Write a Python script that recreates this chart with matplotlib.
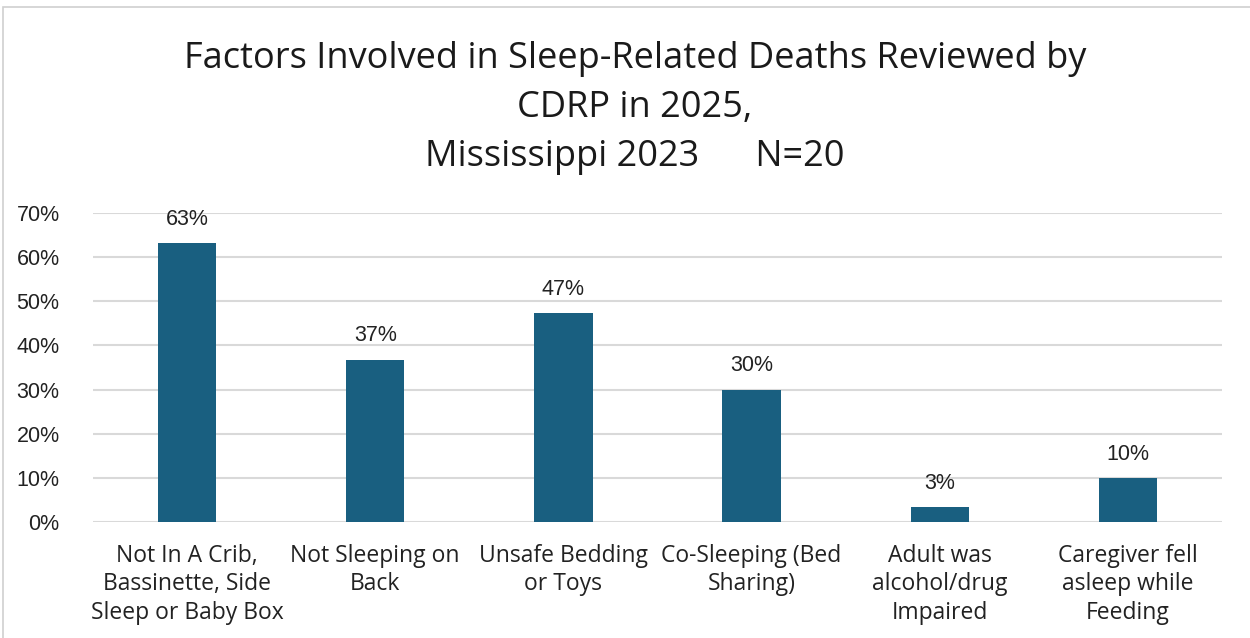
import numpy as np
import matplotlib.pyplot as plt
from matplotlib.patches import Rectangle
from matplotlib.ticker import FuncFormatter

# data
categories = ["Not In A Crib,\nBassinette, Side\nSleep or Baby Box",
              "Not Sleeping on\nBack",
              "Unsafe Bedding\nor Toys",
              "Co-Sleeping (Bed\nSharing)",
              "Adult was\nalcohol/drug\nImpaired",
              "Caregiver fell\nasleep while\nFeeding"]
values = [63.2, 36.8, 47.4, 30.0, 3.3, 10.0]
value_labels = ["63%", "37%", "47%", "30%", "3%", "10%"]
yticks = [0, 10, 20, 30, 40, 50, 60, 70]

bar_color = "#195f80"
grid_color = "#d9d9d9"
W, H = 1250, 638

fig = plt.figure(figsize=(12.5, 6.38), dpi=100)
ax = fig.add_axes([93 / W, 1 - 522 / H, (1222 - 93) / W, (522 - 213) / H])

x = np.arange(len(categories))
ax.bar(x, values, width=0.31, color=bar_color, zorder=3)
for xi, v, lab in zip(x, values, value_labels):
    ax.text(xi, v + 3.0, lab, ha="center", va="bottom", fontsize=15.5,
            family="Liberation Sans", color="#222222")

ax.set_xlim(-0.5, len(categories) - 0.5)
ax.set_ylim(0, 70)
ax.set_yticks(yticks)
ax.yaxis.set_major_formatter(FuncFormatter(lambda v, p: f"{v:.0f}%"))
ax.grid(axis="y", color=grid_color, linewidth=1.5, zorder=0)
for s in ax.spines.values():
    s.set_visible(False)
ax.tick_params(axis="both", length=0)
ax.tick_params(axis="y", pad=24)
for t in ax.get_yticklabels():
    t.set_fontsize(15.5)
    t.set_family("Liberation Sans")
    t.set_color("#222222")

ax.set_xticks(x)
ax.set_xticklabels(categories, fontsize=16.5, family="Open Sans",
                   color="#222222", linespacing=1.23)
ax.tick_params(axis="x", pad=16)

fig.text(0.508, 1 - 41 / H,
         "Factors Involved in Sleep-Related Deaths Reviewed by\nCDRP in 2025,\nMississippi 2023      N=20",
         ha="center", va="top", fontsize=26, family="Open Sans",
         color="#1a1a1a", linespacing=1.49)

# chart border (partly cut off at right and bottom)
fig.patches.append(Rectangle((3 / W, -0.05), 1.1, 1 - 7 / H + 0.05,
                             transform=fig.transFigure, fill=False,
                             edgecolor="#d0d0d0", linewidth=1.2))

fig.savefig("out.png", dpi=100, facecolor="white")
